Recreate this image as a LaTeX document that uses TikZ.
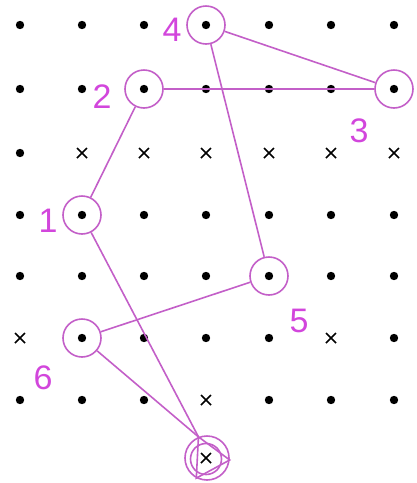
\documentclass[tikz,border=0pt]{standalone}
\usepackage{fontspec}
\setmainfont{Liberation Sans}
\definecolor{mline}{RGB}{195,95,200}
\definecolor{mtext}{RGB}{210,70,220}
\begin{document}
\begin{tikzpicture}[x=1pt,y=-1pt,
  ring/.style={circle,draw=mline,line width=1.6pt,minimum size=38pt,inner sep=0pt},
  lbl/.style={text=mtext,font=\fontsize{34}{34}\selectfont,inner sep=0pt},
  conn/.style={draw=mline,line width=1.6pt},
  xm/.style={draw=black,line width=1.5pt},
  dotm/.style={fill=black}]
\useasboundingbox (0,0) rectangle (417,483);
% dots in full rows
\foreach \y in {25,89,215,276} {
  \foreach \x in {20,82,144,206,269,331,394} {
    \fill[dotm] (\x,\y) circle (4.2);
  }
}
\fill[dotm] (20,153) circle (4.2);
\foreach \x in {82,144,206,269,394} { \fill[dotm] (\x,338) circle (4.2); }
\foreach \x in {20,82,144,269,331,394} { \fill[dotm] (\x,400) circle (4.2); }
% crosses
\foreach \x/\y in {82/153,144/153,206/153,269/153,331/153,394/153,20/338,331/338,206/400,206/458} {
  \draw[xm] ({\x-5},{\y-5}) -- ({\x+5},{\y+5}) ({\x-5},{\y+5}) -- ({\x+5},{\y-5});
}
% rings
\node[ring] (n4) at (206,25) {};
\node[ring] (n2) at (144,89) {};
\node[ring] (n3) at (394,89) {};
\node[ring] (n1) at (82,215) {};
\node[ring] (n5) at (269,276) {};
\node[ring] (n6) at (82,338) {};
\node[ring,minimum size=44pt] (nb) at (207,458) {};
\node[ring,minimum size=31pt] (nbi) at (206,459) {};
% connectors
\draw[conn] (n2) -- (n3);
\draw[conn] (n3) -- (n4);
\draw[conn] (n4) -- (n5);
\draw[conn] (n5) -- (n6);
\draw[conn] (n6) -- (nb.112);
\draw[conn] (n1) -- (nb.112);
\draw[conn] (n1) -- (n2);
\draw[conn] (nb.112) -- (nb.-5) -- (nb.-118) -- cycle;
% labels
\node[lbl] (l4) at (172,30) {4};
\node[lbl] (l2) at (102,97) {2};
\node[lbl] (l3) at (359,131) {3};
\node[lbl] (l1) at (48,221) {1};
\node[lbl] (l5) at (299,321) {5};
\node[lbl] (l6) at (43,378) {6};
\end{tikzpicture}
\end{document}
